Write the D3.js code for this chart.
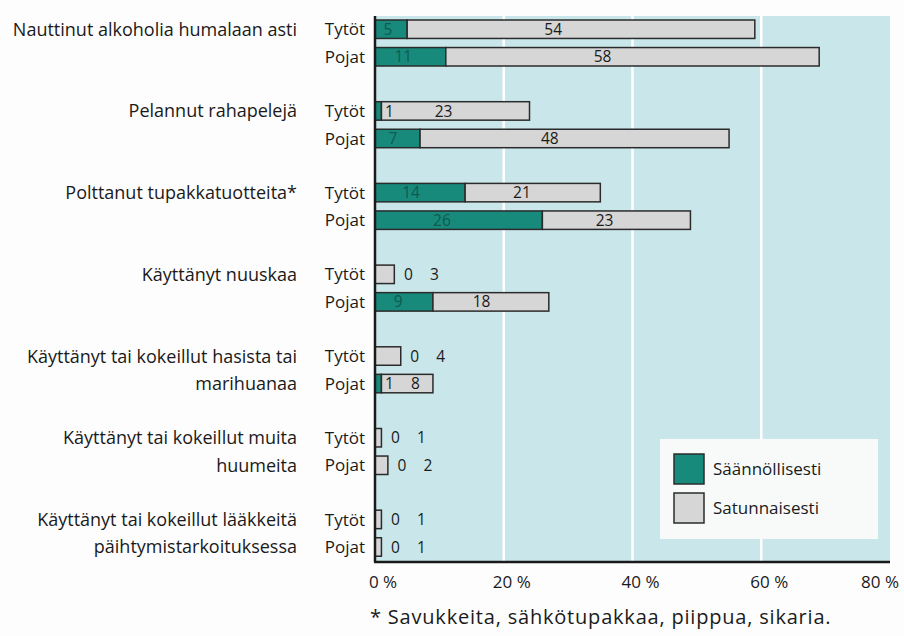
<!DOCTYPE html>
<html>
<head>
<meta charset="utf-8">
<script src="https://cdn.jsdelivr.net/npm/d3@7"></script>
<style>
    body { margin: 0; background: #fdfdfd; }
    svg { font-family: "Open Sans", "Noto Sans", sans-serif; }
    .cat-label { font-size: 18px; fill: #1a1a1a; }
    .sex-label { font-size: 17px; fill: #1a1a1a; }
    .val-label { font-size: 15.5px; }
    .tick-label { font-size: 17px; fill: #1a1a1a; }
</style>
</head>
<body>
<div id="chart-area"></div>
<script>
const categories = [
    ["Nauttinut alkoholia humalaan asti"],
    ["Pelannut rahapelejä"],
    ["Polttanut tupakkatuotteita*"],
    ["Käyttänyt nuuskaa"],
    ["Käyttänyt tai kokeillut hasista tai", "marihuanaa"],
    ["Käyttänyt tai kokeillut muita", "huumeita"],
    ["Käyttänyt tai kokeillut lääkkeitä", "päihtymistarkoituksessa"],
];
const groups = ["Tytöt", "Pojat"];
const regularGirls = [5, 1, 14, 0, 0, 0, 0];
const regularBoys = [11, 7, 26, 9, 1, 0, 0];
const occasionalGirls = [54, 23, 21, 3, 4, 1, 1];
const occasionalBoys = [58, 48, 23, 18, 8, 2, 1];
const ticks = [0, 20, 40, 60, 80];
const seriesNames = ["Säännöllisesti", "Satunnaisesti"];
const footnote = "* Savukkeita, sähkötupakkaa, piippua, sikaria.";

const chartSize = { width: 904, height: 636 };
const plot = { left: 375, right: 890, top: 16, bottom: 562 };
const colors = { regular: "#178a7c", occasional: "#d6d6d6", bg: "#c9e6ea", stroke: "#2b2b2b" };

const rows = [];
categories.forEach((c, i) => {
    rows.push({ cat: i, sex: "Tytöt", reg: regularGirls[i], occ: occasionalGirls[i] });
    rows.push({ cat: i, sex: "Pojat", reg: regularBoys[i], occ: occasionalBoys[i] });
});

const drawChart = function () {
    const svg = d3.select("#chart-area").append("svg")
        .attr("width", chartSize.width)
        .attr("height", chartSize.height);

    const x = d3.scaleLinear().domain([0, 80]).range([plot.left, plot.right]);
    const yCat = d3.scaleBand().domain(d3.range(categories.length))
        .range([20, 20 + 7 * 81.7]).paddingInner(0);
    const ySex = d3.scaleBand().domain(groups).range([0, 46]).paddingInner(0.33);
    const rowY = d => yCat(d.cat) + ySex(d.sex);
    const bh = ySex.bandwidth();

    // background + gridlines
    svg.append("rect")
        .attr("x", plot.left).attr("y", plot.top)
        .attr("width", plot.right - plot.left).attr("height", plot.bottom - plot.top)
        .attr("fill", colors.bg);

    svg.selectAll(".grid")
        .data(ticks.slice(1, -1))
        .join("line")
        .attr("class", "grid")
        .attr("x1", d => x(d)).attr("x2", d => x(d))
        .attr("y1", plot.top).attr("y2", plot.bottom)
        .attr("stroke", "#ffffff").attr("stroke-width", 2.5);

    // legend box
    const lg = svg.append("g").attr("transform", "translate(660,439)");
    lg.append("rect").attr("width", 218).attr("height", 100).attr("fill", "#f8fafa");
    seriesNames.forEach((n, i) => {
        lg.append("rect")
            .attr("x", 14).attr("y", 15 + i * 39)
            .attr("width", 30).attr("height", 30)
            .attr("fill", i === 0 ? colors.regular : colors.occasional)
            .attr("stroke", colors.stroke).attr("stroke-width", 1.5);
        lg.append("text")
            .attr("x", 53).attr("y", 30 + i * 39)
            .attr("dy", "0.35em")
            .attr("font-size", 17).attr("fill", "#1a1a1a")
            .text(n);
    });

    // bars
    const bars = svg.selectAll(".row").data(rows).join("g").attr("class", "row");

    bars.append("rect")
        .attr("x", d => x(0)).attr("y", rowY)
        .attr("width", d => x(d.reg) - x(0)).attr("height", bh)
        .attr("fill", colors.regular)
        .attr("stroke", colors.stroke).attr("stroke-width", 1.5);

    bars.append("rect")
        .attr("x", d => x(d.reg)).attr("y", rowY)
        .attr("width", d => x(d.reg + d.occ) - x(d.reg)).attr("height", bh)
        .attr("fill", colors.occasional)
        .attr("stroke", colors.stroke).attr("stroke-width", 1.5);

    // value labels
    const regX = d => {
        if (d.reg >= 5) return x(0) + 0.4 * (x(d.reg) - x(0));
        if (d.reg === 0) return x(d.reg + d.occ) + 14;
        return x(d.reg) + 8;
    };
    const occX = d => {
        if (d.occ >= 10) return x(d.reg) + 0.42 * (x(d.reg + d.occ) - x(d.reg));
        return regX(d) + 26;
    };

    bars.append("text")
        .attr("class", "val-label")
        .attr("x", regX).attr("y", d => rowY(d) + bh / 2)
        .attr("dy", "0.36em").attr("text-anchor", "middle")
        .attr("fill", d => d.reg >= 5 ? "#0f5a51" : "#1a1a1a")
        .text(d => d.reg);

    bars.append("text")
        .attr("class", "val-label")
        .attr("x", occX).attr("y", d => rowY(d) + bh / 2)
        .attr("dy", "0.36em").attr("text-anchor", "middle")
        .attr("fill", "#1a1a1a")
        .text(d => d.occ);

    // sex labels
    bars.append("text")
        .attr("class", "sex-label")
        .attr("x", 365).attr("y", d => rowY(d) + bh / 2)
        .attr("dy", "0.36em").attr("text-anchor", "end")
        .text(d => d.sex);

    // category labels, one line per row
    categories.forEach((lines, i) => {
        lines.forEach((t, j) => {
            svg.append("text")
                .attr("class", "cat-label")
                .attr("x", 297)
                .attr("y", yCat(i) + ySex(groups[j]) + bh / 2)
                .attr("dy", "0.36em").attr("text-anchor", "end")
                .text(t);
        });
    });

    // axes lines
    svg.append("line")
        .attr("x1", plot.left).attr("x2", plot.left)
        .attr("y1", plot.top).attr("y2", plot.bottom)
        .attr("stroke", "#1a1a1a").attr("stroke-width", 2.5);
    svg.append("line")
        .attr("x1", plot.left - 1).attr("x2", plot.right)
        .attr("y1", plot.bottom).attr("y2", plot.bottom)
        .attr("stroke", "#1a1a1a").attr("stroke-width", 2.5);

    svg.selectAll(".tick-label")
        .data(ticks)
        .join("text")
        .attr("class", "tick-label")
        .attr("x", d => x(d) + (d === 80 ? -10 : 8))
        .attr("y", 582)
        .attr("dy", "0.36em").attr("text-anchor", "middle")
        .text(d => d + " %");

    svg.append("text")
        .attr("x", 370).attr("y", 617)
        .attr("dy", "0.36em")
        .attr("font-size", 20).attr("letter-spacing", 0.8).attr("fill", "#1a1a1a")
        .text(footnote);
};

window.onload = drawChart;
</script>
</body>
</html>
